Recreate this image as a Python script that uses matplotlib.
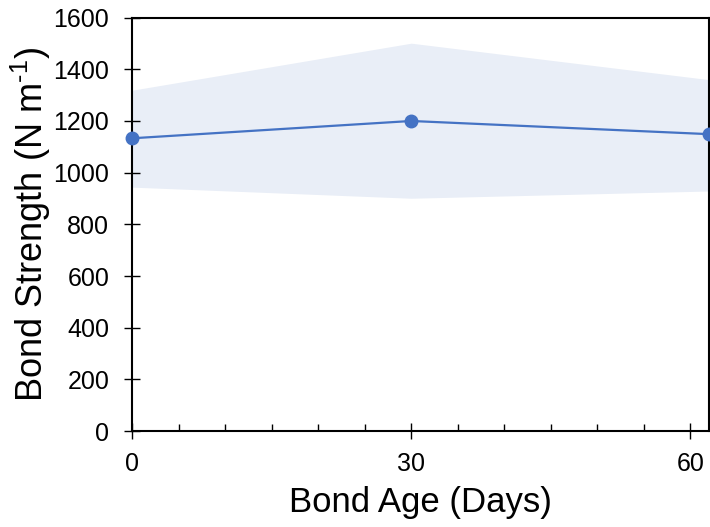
import matplotlib
matplotlib.use("Agg")
import matplotlib.pyplot as plt
from matplotlib.ticker import MultipleLocator

plt.rcParams['font.family'] = ['Liberation Sans', 'DejaVu Sans']
plt.rcParams['mathtext.fontset'] = 'custom'
plt.rcParams['mathtext.rm'] = 'Liberation Sans'
plt.rcParams['mathtext.it'] = 'Liberation Sans:italic'

days = [0, 30, 62]
strength = [1133, 1200, 1149]
upper = [1319, 1501, 1360]
lower = [944, 901, 929]

fig = plt.figure(figsize=(7.1, 5.27), dpi=100)
ax = fig.add_axes([0.186, 0.182, 0.8126, 0.7846])

ax.fill_between(days, lower, upper, color='#E9EEF7', linewidth=0)
ax.plot(days, strength, color='#4472C4', linewidth=1.6, marker='o',
        markersize=9, clip_on=False, zorder=5)

ax.set_xlim(0, 62)
ax.set_ylim(0, 1600)
ax.xaxis.set_major_locator(MultipleLocator(30))
ax.xaxis.set_minor_locator(MultipleLocator(5))
ax.yaxis.set_major_locator(MultipleLocator(200))

for s in ax.spines.values():
    s.set_linewidth(1.5)
    s.set_color('black')

ax.tick_params(axis='both', which='major', direction='inout', length=12,
               width=1.0, labelsize=18)
ax.tick_params(axis='x', which='major', pad=9)
ax.tick_params(axis='y', which='major', pad=10.5)
ax.tick_params(axis='x', which='minor', direction='in', length=5, width=1.0)

ax.set_xlabel('Bond Age (Days)', fontsize=25, labelpad=7)
ax.set_ylabel(r'Bond Strength (N m$^{\text{-}1}$)', fontsize=26, labelpad=0)

fig.savefig('out.png', dpi=100)
